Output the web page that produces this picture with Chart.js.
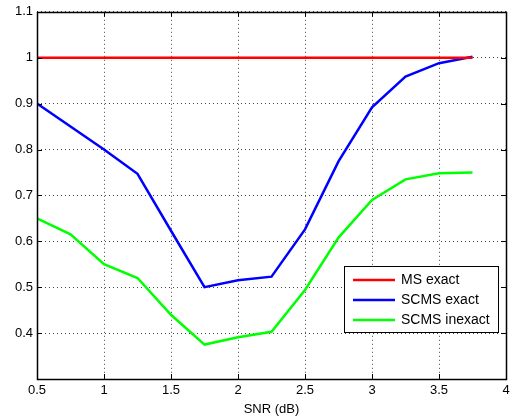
<!DOCTYPE html>
<html>
<head>
<meta charset="utf-8">
<script src="https://cdn.jsdelivr.net/npm/chart.js@4.4.0/dist/chart.umd.min.js"></script>
<style>
  html, body { margin: 0; padding: 0; background: #fff; }
  #wrap { width: 515px; height: 420px; }
</style>
</head>
<body>
<div id="wrap"><canvas id="myChart" width="515" height="420"></canvas></div>
<script>
var snr = [0.5, 0.75, 1, 1.25, 1.5, 1.75, 2, 2.25, 2.5, 2.75, 3, 3.25, 3.5, 3.75];
var msExact = [1, 1, 1, 1, 1, 1, 1, 1, 1, 1, 1, 1, 1, 1];
var scmsExact = [0.9, 0.85, 0.8, 0.747, 0.623, 0.5, 0.515, 0.523, 0.626, 0.774, 0.892, 0.959, 0.988, 1.002];
var scmsInexact = [0.65, 0.615, 0.55, 0.52, 0.44, 0.375, 0.391, 0.403, 0.494, 0.608, 0.69, 0.735, 0.748, 0.75];
var seriesNames = ["MS exact", "SCMS exact", "SCMS inexact"];
var seriesColors = ["#ff0000", "#0000ff", "#00ff00"];

var FONT = "'Liberation Sans', Arial, sans-serif";

function toPoints(ys) {
    var pts = [];
    for (var i = 0; i < snr.length; i++) {
        pts.push({ x: snr[i], y: ys[i] });
    }
    return pts;
}

function fmt(v) {
    return String(Math.round(v * 10) / 10);
}

// frame + inward tick marks like matlab
var framePlugin = {
    id: 'frame',
    afterDatasetsDraw: function (chart) {
        var ctx = chart.ctx;
        var a = chart.chartArea;
        var xs = chart.scales.x, ys = chart.scales.y;
        ctx.save();
        ctx.strokeStyle = '#000';
        ctx.lineWidth = 1;
        ctx.beginPath();
        xs.ticks.forEach(function (t) {
            var px = Math.round(xs.getPixelForValue(t.value)) + 0.5;
            ctx.moveTo(px, a.bottom); ctx.lineTo(px, a.bottom - 5);
            ctx.moveTo(px, a.top); ctx.lineTo(px, a.top + 5);
        });
        ys.ticks.forEach(function (t) {
            var py = Math.round(ys.getPixelForValue(t.value)) + 0.5;
            ctx.moveTo(a.left, py); ctx.lineTo(a.left + 5, py);
            ctx.moveTo(a.right, py); ctx.lineTo(a.right - 5, py);
        });
        ctx.stroke();
        ctx.lineWidth = 1.5;
        ctx.strokeRect(Math.round(a.left) + 0.5, Math.round(a.top) + 0.5,
            Math.round(a.right - a.left), Math.round(a.bottom - a.top));
        ctx.restore();
    }
};

var legendPlugin = {
    id: 'boxLegend',
    afterDraw: function (chart) {
        var ctx = chart.ctx;
        var x0 = 344, y0 = 266, w = 154, h = 66;
        ctx.save();
        ctx.fillStyle = '#fff';
        ctx.fillRect(x0, y0, w, h);
        ctx.strokeStyle = '#000';
        ctx.lineWidth = 1;
        ctx.strokeRect(x0 + 0.5, y0 + 0.5, w, h);
        ctx.font = '14px ' + FONT;
        ctx.textBaseline = 'middle';
        chart.data.datasets.forEach(function (ds, i) {
            var yy = y0 + 14 + i * 20;
            ctx.strokeStyle = ds.borderColor;
            ctx.lineWidth = 2.5;
            ctx.beginPath();
            ctx.moveTo(353, yy);
            ctx.lineTo(395, yy);
            ctx.stroke();
            ctx.fillStyle = '#000';
            ctx.fillText(ds.label, 401, yy);
        });
        ctx.restore();
    }
};

new Chart("myChart", {
    type: "line",
    data: {
        datasets: [
            { label: seriesNames[0], data: toPoints(msExact), borderColor: seriesColors[0] },
            { label: seriesNames[1], data: toPoints(scmsExact), borderColor: seriesColors[1] },
            { label: seriesNames[2], data: toPoints(scmsInexact), borderColor: seriesColors[2] }
        ]
    },
    options: {
        responsive: false,
        animation: false,
        layout: { padding: { top: 10, right: 9, left: 0, bottom: 0 } },
        elements: {
            line: { borderWidth: 2.5, tension: 0 },
            point: { radius: 0 }
        },
        plugins: {
            legend: { display: false },
            tooltip: { enabled: false }
        },
        scales: {
            x: {
                type: 'linear',
                min: 0.5,
                max: 4,
                afterFit: function (s) { s.height = 41; },
                ticks: {
                    stepSize: 0.5,
                    color: '#000',
                    padding: 4,
                    maxRotation: 0,
                    font: { family: FONT, size: 13 },
                    callback: function (v) { return fmt(v); }
                },
                grid: {
                    color: '#444',
                    drawTicks: false
                },
                border: { display: false, dash: [1, 3] },
                title: {
                    display: true,
                    text: 'SNR (dB)',
                    color: '#000',
                    padding: { top: 0, bottom: 3 },
                    font: { family: FONT, size: 13 }
                }
            },
            y: {
                min: 0.3,
                max: 1.1,
                afterFit: function (s) { s.width = 37; },
                ticks: {
                    stepSize: 0.1,
                    color: '#000',
                    padding: 4,
                    font: { family: FONT, size: 13 },
                    callback: function (v) {
                        return Math.round(v * 10) <= 3 ? '' : fmt(v);
                    }
                },
                grid: {
                    color: '#444',
                    drawTicks: false
                },
                border: { display: false, dash: [1, 3] }
            }
        }
    },
    plugins: [framePlugin, legendPlugin]
});
</script>
</body>
</html>
